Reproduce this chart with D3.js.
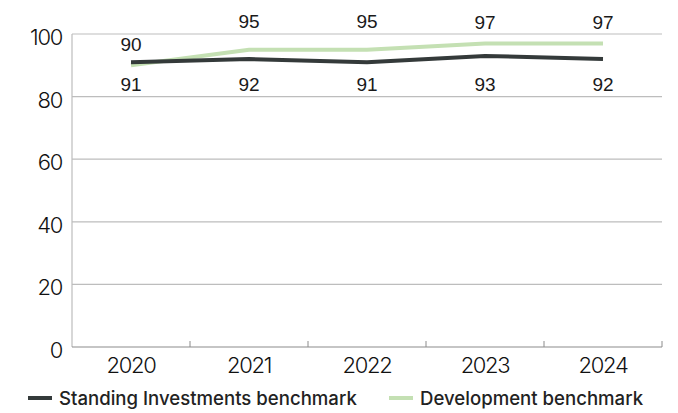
<!DOCTYPE html>
<html>
<head>
<meta charset="utf-8">
<script src="https://cdn.jsdelivr.net/npm/d3@7"></script>
<style>
  html, body { margin: 0; padding: 0; background: #fff; }
  svg { display: block; }
  .tick-label { font-family: Inter, "Noto Sans", sans-serif; font-weight: 300; font-size: 22px; fill: #111; letter-spacing: -1.3px; }
  .value-label { font-family: "Liberation Sans", Arial, sans-serif; font-size: 19px; fill: #1a1a1a; }
  .legend-label { font-family: Inter, "Noto Sans", sans-serif; font-weight: 500; font-size: 18.6px; fill: #222; }
</style>
</head>
<body>
<svg id="chart" width="678" height="413"></svg>
<script>
// Benchmark scores by year
const years = ["2020", "2021", "2022", "2023", "2024"];
const standingInvestments = [91, 92, 91, 93, 92];
const development = [90, 95, 95, 97, 97];
const yTicks = [0, 20, 40, 60, 80, 100];
const seriesNames = ["Standing Investments benchmark", "Development benchmark"];
const seriesColors = ["#343a3a", "#c4e0b3"];

const W = 678, H = 413;
const margin = { top: 34, right: 16, bottom: 66, left: 72 };
const svg = d3.select("#chart");

const x = d3.scaleBand().domain(years).range([margin.left, W - margin.right]).padding(0);
const y = d3.scaleLinear().domain([0, 100]).range([H - margin.bottom, margin.top]);

// Horizontal gridlines
svg.append("g")
  .selectAll("line")
  .data(yTicks.filter(t => t > 0))
  .join("line")
  .attr("x1", margin.left).attr("x2", W - margin.right)
  .attr("y1", d => y(d)).attr("y2", d => y(d))
  .attr("stroke", "#bdbdbd").attr("stroke-width", 1.2);

// Left axis line
svg.append("line")
  .attr("x1", margin.left).attr("x2", margin.left)
  .attr("y1", y(100)).attr("y2", y(0))
  .attr("stroke", "#bdbdbd").attr("stroke-width", 1.2);

// Y tick labels
svg.append("g")
  .selectAll("text")
  .data(yTicks)
  .join("text")
  .attr("class", "tick-label")
  .attr("x", margin.left - 10)
  .attr("y", d => y(d) + 11)
  .attr("text-anchor", "end")
  .text(d => d);

// Bottom axis with inward ticks at band boundaries
const xAxisG = svg.append("g").attr("transform", `translate(0,${y(0)})`);
xAxisG.append("line")
  .attr("x1", margin.left).attr("x2", W - margin.right)
  .attr("stroke", "#8c8c8c").attr("stroke-width", 1.2);
xAxisG.selectAll("line.tk")
  .data(years.slice(1).concat(["end"]))
  .join("line")
  .attr("class", "tk")
  .attr("x1", (d, i) => i < years.length - 1 ? x(d) : x.range()[1])
  .attr("x2", (d, i) => i < years.length - 1 ? x(d) : x.range()[1])
  .attr("y1", 0).attr("y2", -6)
  .attr("stroke", "#8c8c8c").attr("stroke-width", 1);
xAxisG.selectAll("text")
  .data(years)
  .join("text")
  .attr("class", "tick-label")
  .attr("x", d => x(d) + x.bandwidth() / 2)
  .attr("y", 26)
  .attr("text-anchor", "middle")
  .text(d => d);

// Lines
const line = d3.line()
  .x((d, i) => x(years[i]) + x.bandwidth() / 2)
  .y(d => y(d));

svg.append("path")
  .datum(development)
  .attr("d", line)
  .attr("fill", "none")
  .attr("stroke", seriesColors[1])
  .attr("stroke-width", 4);

svg.append("path")
  .datum(standingInvestments)
  .attr("d", line)
  .attr("fill", "none")
  .attr("stroke", seriesColors[0])
  .attr("stroke-width", 4);

// Value labels: development above its line, lifted over the top gridline when they would cross it
const labelH = 14;
svg.append("g")
  .selectAll("text")
  .data(development)
  .join("text")
  .attr("class", "value-label")
  .attr("x", (d, i) => x(years[i]) + x.bandwidth() / 2)
  .attr("y", d => {
    let base = y(d) - 14;
    const top = y(100);
    if (base > top && base - labelH < top) base = top - 6;
    return base;
  })
  .attr("text-anchor", "middle")
  .text(d => d);

// Standing investments labels sit just above the 80 gridline
svg.append("g")
  .selectAll("text")
  .data(standingInvestments)
  .join("text")
  .attr("class", "value-label")
  .attr("x", (d, i) => x(years[i]) + x.bandwidth() / 2)
  .attr("y", y(80) - 6)
  .attr("text-anchor", "middle")
  .text(d => d);

// Legend
const legend = svg.append("g").attr("transform", `translate(0,${H - 15})`);
const legendItems = [
  { name: seriesNames[0], color: seriesColors[0], x0: 28 },
  { name: seriesNames[1], color: seriesColors[1], x0: 389 }
];
const li = legend.selectAll("g").data(legendItems).join("g")
  .attr("transform", d => `translate(${d.x0},0)`);
li.append("line")
  .attr("x1", 0).attr("x2", 24)
  .attr("y1", 0).attr("y2", 0)
  .attr("stroke", d => d.color).attr("stroke-width", 4);
li.append("text")
  .attr("class", "legend-label")
  .attr("x", 31)
  .attr("y", 6.5)
  .text(d => d.name);
</script>
</body>
</html>
